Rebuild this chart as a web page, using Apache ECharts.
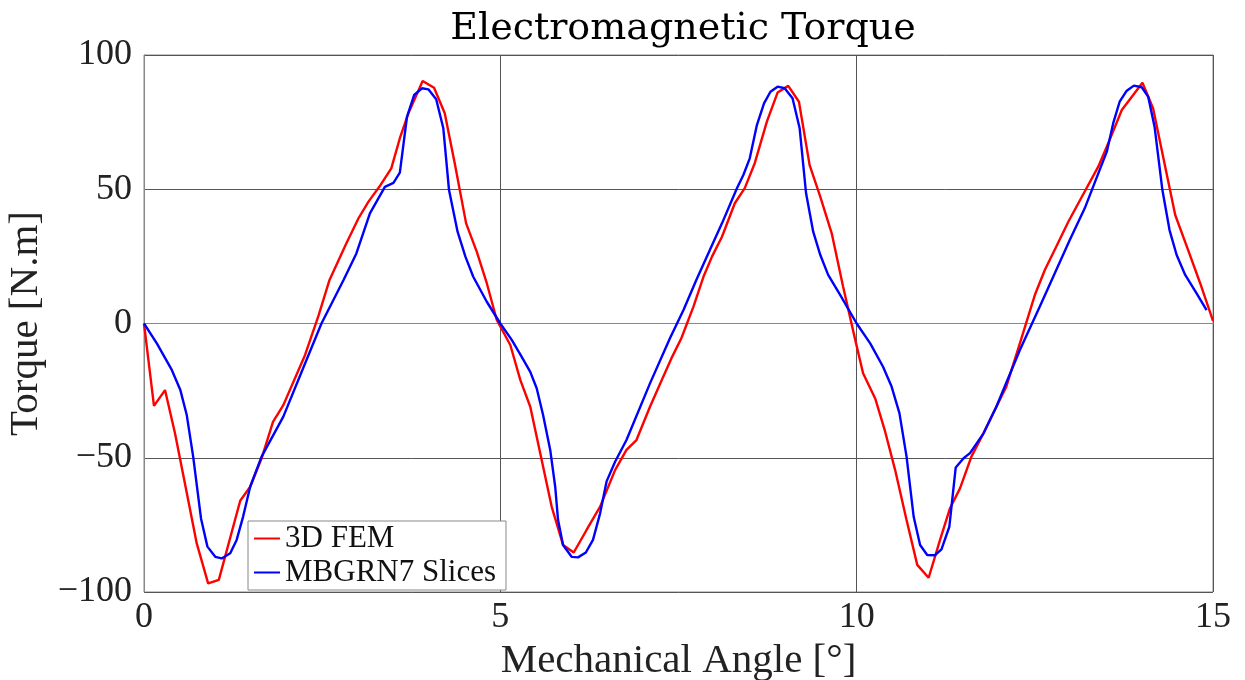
<!DOCTYPE html>
<html>
<head>
<meta charset="utf-8">
<script src="https://cdn.jsdelivr.net/npm/echarts@6/dist/echarts.min.js"></script>
<style>html,body{margin:0;padding:0;background:#fff;}#chart{width:1245px;height:680px;}</style>
</head>
<body>
<div id="chart"></div>
<script>
const titleText = 'Electromagnetic Torque';
const xName = 'Mechanical Angle [°]';
const yName = 'Torque [N.m]';
const seriesNames = ['3D FEM', 'MBGRN7 Slices'];

const fem3d = [
[0,0],[0.14,-30.7],[0.295,-24.8],[0.435,-40.9],[0.6,-63],[0.74,-81.9],[0.9,-96.8],[1.05,-95.5],
[1.35,-66],[1.49,-60.8],[1.65,-50.2],[1.81,-36.6],[1.955,-30.4],[2.26,-11.7],[2.45,3],[2.6,16],
[2.84,29.9],[3.01,39.2],[3.15,45.4],[3.32,51.6],[3.47,57.8],[3.59,69],[3.71,78.3],[3.91,90.3],
[4.07,87.8],[4.22,78.3],[4.36,59.7],[4.52,37.3],[4.67,26.7],[4.81,15],[4.95,1.3],[5.14,-8],
[5.28,-21],[5.42,-31],[5.56,-48.3],[5.72,-68.2],[5.88,-82.5],[6.03,-85.3],[6.21,-76.9],[6.40,-68.2],
[6.61,-54.6],[6.77,-47.1],[6.91,-43.4],[7.10,-31],[7.25,-22],[7.40,-13],[7.54,-5.5],[7.71,6.3],
[7.85,17.4],[7.97,24.9],[8.11,32.3],[8.29,44.8],[8.43,50.4],[8.57,59.7],[8.74,75.2],[8.89,86],
[9.04,88.5],[9.19,82.6],[9.34,59],[9.49,47.2],[9.65,33.6],[9.81,13.7],[9.98,-6.1],[10.09,-18.5],
[10.26,-27.9],[10.40,-40.3],[10.54,-54.6],[10.70,-73.2],[10.85,-89.9],[11.01,-94.7],[11.17,-80.6],
[11.31,-68.8],[11.45,-61.4],[11.61,-49.6],[11.78,-40.9],[11.96,-31],[12.10,-23.5],[12.29,-7.4],
[12.50,10.6],[12.64,19.9],[12.80,28.6],[12.97,37.9],[13.16,47.2],[13.39,58.4],[13.53,67.1],
[13.72,79.5],[13.88,85.1],[14.01,89.7],[14.16,80.1],[14.30,62.1],[14.47,40.4],[14.65,27.4],
[14.82,15],[15,1]
];

const mbgrn7 = [
[0,0],[0.18,-7.4],[0.39,-17.3],[0.51,-24.8],[0.60,-34.1],[0.69,-49.6],[0.80,-72.6],[0.89,-83.1],
[1.0,-86.9],[1.09,-87.5],[1.21,-85.6],[1.30,-80.6],[1.39,-72],[1.49,-60.8],[1.65,-49.6],[1.955,-34.7],
[2.28,-13.6],[2.49,0],[2.80,16.2],[2.98,26.1],[3.17,41],[3.38,50.9],[3.50,52.4],[3.59,56.2],
[3.69,77],[3.79,85.1],[3.90,87.6],[3.99,87.2],[4.10,83.5],[4.20,72.7],[4.28,49.7],[4.40,34.2],
[4.51,24.9],[4.62,17.4],[4.81,8.1],[5.0,0],[5.16,-6.1],[5.30,-12.4],[5.42,-18],[5.51,-24.1],
[5.60,-34.1],[5.70,-47.1],[5.77,-60.8],[5.81,-73.2],[5.88,-82.5],[6.0,-86.9],[6.09,-87.1],[6.20,-85.3],
[6.30,-80.6],[6.40,-70.7],[6.49,-58.9],[6.61,-51.5],[6.77,-43.4],[7.10,-22.3],[7.38,-5.5],[7.57,5],
[7.75,16.2],[7.94,27.4],[8.11,37.3],[8.32,50.4],[8.41,55.3],[8.50,61.5],[8.60,73.9],[8.70,82],
[8.79,86.3],[8.89,88.2],[8.99,87.6],[9.10,83.9],[9.20,72.7],[9.29,48.5],[9.39,34.2],[9.49,25.5],
[9.60,18.1],[9.77,10.6],[10.0,0],[10.19,-7.4],[10.37,-16.1],[10.49,-23.5],[10.60,-33.4],[10.70,-49.6],
[10.80,-72],[10.89,-82.5],[10.99,-86.2],[11.10,-86.3],[11.19,-84.1],[11.30,-75.7],[11.39,-53.6],
[11.50,-50.2],[11.59,-48.3],[11.78,-40.9],[11.96,-31],[12.29,-9.9],[12.57,6.3],[12.78,18.7],
[12.99,31.1],[13.20,42.9],[13.41,57.2],[13.51,64],[13.60,74.6],[13.69,82.6],[13.79,86.7],[13.89,88.6],
[14.0,88],[14.09,84.5],[14.18,73.3],[14.29,49.7],[14.39,34.8],[14.49,25.5],[14.61,18.1],[14.77,11.2],
[14.91,5]
];

const chart = echarts.init(document.getElementById('chart'), null, {renderer: 'canvas'});
const serif = '"Liberation Serif", "DejaVu Serif", serif';
chart.setOption({
  animation: false,
  backgroundColor: '#ffffff',
  title: {
    text: titleText, left: 678, textAlign: 'center', top: 5,
    textStyle: {fontFamily: '"DejaVu Serif", serif', fontSize: 38, fontWeight: 'normal', color: '#000'}
  },
  grid: {left: 144, right: 32, top: 55, bottom: 88, show: true, borderColor: '#888', borderWidth: 1,
         backgroundColor: '#fff', containLabel: false, outerBoundsMode: 'none'},
  legend: {
    orient: 'vertical', left: 248, top: 521,
    backgroundColor: '#fff', borderColor: '#888', borderWidth: 1,
    padding: [2, 10, 2, 6], itemGap: 3, itemWidth: 26, itemHeight: 14,
    icon: 'path://M0,6 L26,6 L26,8 L0,8 Z',
    textStyle: {fontFamily: serif, fontSize: 31, color: '#111'},
    data: seriesNames
  },
  xAxis: {
    type: 'value', min: 0, max: 15, interval: 5,
    name: xName, nameLocation: 'middle', nameGap: 42,
    nameTextStyle: {fontFamily: serif, fontSize: 41, color: '#222'},
    axisLine: {show: true, lineStyle: {color: '#888', width: 1}},
    axisTick: {show: false},
    axisLabel: {fontFamily: serif, fontSize: 36, color: '#222', margin: 8},
    splitLine: {show: true, lineStyle: {color: '#555', width: 1}}
  },
  yAxis: {
    type: 'value', min: -100, max: 100, interval: 50,
    name: yName, nameLocation: 'middle', nameGap: 94,
    nameTextStyle: {fontFamily: serif, fontSize: 41, color: '#222'},
    axisLine: {show: true, lineStyle: {color: '#888', width: 1}},
    axisTick: {show: false},
    axisLabel: {fontFamily: serif, fontSize: 36, color: '#222', margin: 12,
      formatter: v => String(v).replace('-', '\u2212')},
    splitLine: {show: true, lineStyle: {color: '#555', width: 1}}
  },
  series: [
    {name: seriesNames[0], type: 'line', data: fem3d, showSymbol: false, symbol: 'none',
     lineStyle: {color: '#ff0000', width: 2.4}, itemStyle: {color: '#ff0000'}, z: 3},
    {name: seriesNames[1], type: 'line', data: mbgrn7, showSymbol: false, symbol: 'none',
     lineStyle: {color: '#0000ff', width: 2.4}, itemStyle: {color: '#0000ff'}, z: 4}
  ]
});
</script>
</body>
</html>
